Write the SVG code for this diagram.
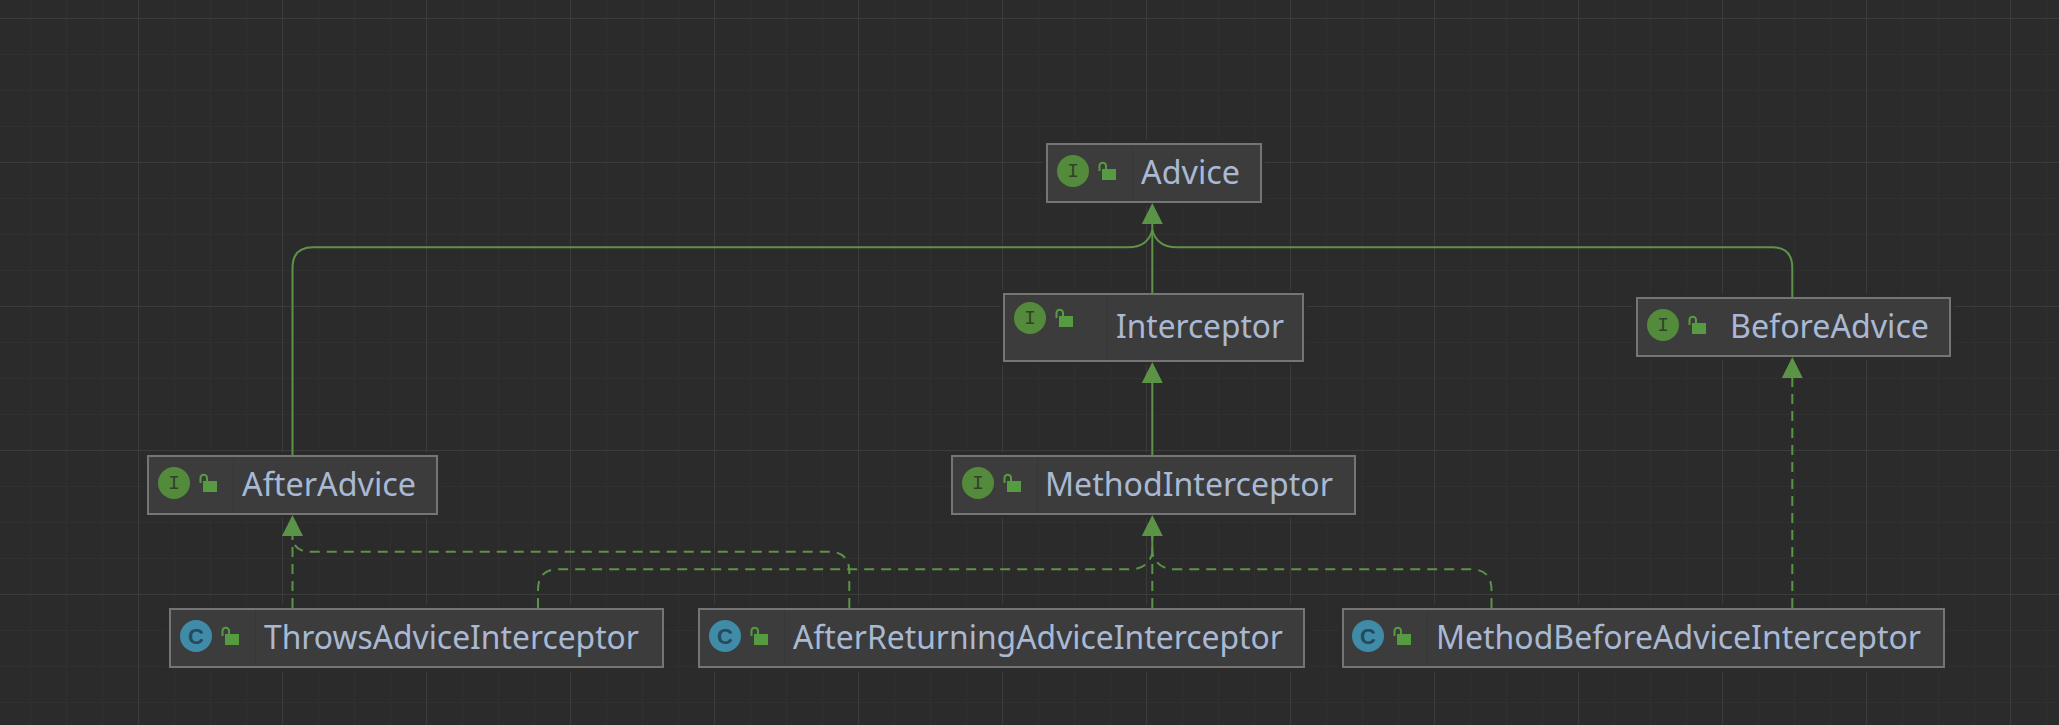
<svg xmlns="http://www.w3.org/2000/svg" xmlns:xlink="http://www.w3.org/1999/xlink" width="2059" height="725" viewBox="0 0 2059 725">
<style>
.halo{fill:#2b2b2b}
.box{fill:#3c3c3c;stroke:#757575;stroke-width:2}
.div{stroke:#373737;stroke-width:1}
.lbl{font-family:"Noto Sans","Open Sans","Liberation Sans",sans-serif;font-size:32px;fill:#a9b9d3}
.ltr{font-family:"Liberation Mono",monospace;font-size:20px;text-anchor:middle}
.ltc{font-family:"Liberation Sans",sans-serif;font-size:22px;font-weight:700;text-anchor:middle}
.solid,.dash{fill:none;stroke:#5c9447;stroke-width:2}
.dash{stroke-dasharray:10 7}
.head{fill:#5c9447}
</style>
<defs>
<pattern id="grid" patternUnits="userSpaceOnUse" x="138" y="18" width="144" height="144">
<path d="M36.5 0V144M72.5 0V144M108.5 0V144M0 36.5H144M0 72.5H144M0 108.5H144" stroke="#303030" stroke-width="1" fill="none"/>
<path d="M0.5 0V144M0 0.5H144" stroke="#3b3b3b" stroke-width="1" fill="none"/>
</pattern>
<g id="lock">
<rect x="29" y="-2" width="14" height="11" fill="#569a41"/>
<path d="M26.5 0V-5.5A3.3 3.3 0 0 1 33 -5.5V-2" fill="none" stroke="#569a41" stroke-width="2"/>
</g>
<path id="arrow" d="M0 0L10.5 21H-10.5Z"/>
</defs>
<rect width="2059" height="725" fill="#2b2b2b"/>
<rect width="2059" height="725" fill="url(#grid)"/>
<g id="halos" class="halo">
<rect x="1043" y="140" width="222" height="66"/>
<rect x="1000" y="290" width="307" height="75"/>
<rect x="1633" y="294" width="321" height="66"/>
<rect x="144" y="452" width="297" height="66"/>
<rect x="948" y="452" width="411" height="66"/>
<rect x="166" y="605" width="501" height="66"/>
<rect x="695" y="605" width="614" height="66"/>
<rect x="1339" y="605" width="609" height="66"/>
</g>

<g id="connectors">
<path class="solid" d="M292.5 455V268Q292.5 247.3 313 247.3H1128Q1148 247.3 1152.3 230"/>
<path class="solid" d="M1792.3 297V268Q1792.3 247.3 1772 247.3H1177Q1157 247.3 1152.3 230"/>
<path class="solid" d="M1152.3 293V222"/>
<path class="solid" d="M1152.3 455V380"/>
<path class="dash" d="M292.5 608V532"/>
<path class="dash" d="M849.3 608V572Q849.3 551.7 829 551.7H310Q296 551.7 292.5 540"/>
<path class="dash" d="M538 608V590Q538 569.3 558 569.3H1130Q1148 569.3 1152.3 553"/>
<path class="dash" d="M1491.5 608V590Q1491.5 569.3 1471 569.3H1175Q1157 569.3 1152.3 553"/>
<path class="dash" d="M1152.3 608V532"/>
<path class="solid" d="M1152.3 555V534"/>
<path class="dash" d="M1792.3 608V374"/>
<use href="#arrow" class="head" x="1152.3" y="203"/>
<use href="#arrow" class="head" x="1152.3" y="362"/>
<use href="#arrow" class="head" x="1152.3" y="515"/>
<use href="#arrow" class="head" x="292.5" y="515"/>
<use href="#arrow" class="head" x="1792.3" y="357"/>
</g>

<g id="node-advice">
<rect class="box" x="1047" y="144" width="214" height="58"/>
<path class="div" d="M1132.5 145V201"/>
<circle cx="1073" cy="171" r="16" fill="#548a3c"/>
<text class="ltr" x="1073" y="177" fill="#2f4429">I</text>
<use href="#lock" x="1073" y="171"/>
<text class="lbl" x="1141" y="184" textLength="99" lengthAdjust="spacingAndGlyphs">Advice</text>
</g>

<g id="node-interceptor">
<rect class="box" x="1004" y="294" width="299" height="67"/>
<path class="div" d="M1107.5 295V360"/>
<circle cx="1030" cy="318" r="16" fill="#548a3c"/>
<text class="ltr" x="1030" y="324" fill="#2f4429">I</text>
<use href="#lock" x="1030" y="318"/>
<text class="lbl" x="1116" y="338" textLength="168" lengthAdjust="spacingAndGlyphs">Interceptor</text>
</g>

<g id="node-beforeadvice">
<rect class="box" x="1637" y="298" width="313" height="58"/>
<circle cx="1663" cy="325" r="16" fill="#548a3c"/>
<text class="ltr" x="1663" y="331" fill="#2f4429">I</text>
<use href="#lock" x="1663" y="325"/>
<text class="lbl" x="1730" y="338" textLength="199" lengthAdjust="spacingAndGlyphs">BeforeAdvice</text>
</g>

<g id="node-afteradvice">
<rect class="box" x="148" y="456" width="289" height="58"/>
<path class="div" d="M233.5 457V513"/>
<circle cx="174" cy="483" r="16" fill="#548a3c"/>
<text class="ltr" x="174" y="489" fill="#2f4429">I</text>
<use href="#lock" x="174" y="483"/>
<text class="lbl" x="242" y="496" textLength="174" lengthAdjust="spacingAndGlyphs">AfterAdvice</text>
</g>

<g id="node-methodinterceptor">
<rect class="box" x="952" y="456" width="403" height="58"/>
<path class="div" d="M1037.5 457V513"/>
<circle cx="978" cy="483" r="16" fill="#548a3c"/>
<text class="ltr" x="978" y="489" fill="#2f4429">I</text>
<use href="#lock" x="978" y="483"/>
<text class="lbl" x="1045" y="496" textLength="288" lengthAdjust="spacingAndGlyphs">MethodInterceptor</text>
</g>

<g id="node-throwsadviceinterceptor">
<rect class="box" x="170" y="609" width="493" height="58"/>
<path class="div" d="M255.5 610V666"/>
<circle cx="196" cy="636" r="16" fill="#3f8ba8"/>
<text class="ltc" x="196" y="644" fill="#27495c">C</text>
<use href="#lock" x="196" y="636"/>
<text class="lbl" x="264" y="649" textLength="375" lengthAdjust="spacingAndGlyphs">ThrowsAdviceInterceptor</text>
</g>

<g id="node-afterreturningadviceinterceptor">
<rect class="box" x="699" y="609" width="605" height="58"/>
<path class="div" d="M784.5 610V666"/>
<circle cx="725" cy="636" r="16" fill="#3f8ba8"/>
<text class="ltc" x="725" y="644" fill="#27495c">C</text>
<use href="#lock" x="725" y="636"/>
<text class="lbl" x="793" y="649" textLength="490" lengthAdjust="spacingAndGlyphs">AfterReturningAdviceInterceptor</text>
</g>

<g id="node-methodbeforeadviceinterceptor">
<rect class="box" x="1343" y="609" width="601" height="58"/>
<path class="div" d="M1427.5 610V666"/>
<circle cx="1368" cy="636" r="16" fill="#3f8ba8"/>
<text class="ltc" x="1368" y="644" fill="#27495c">C</text>
<use href="#lock" x="1368" y="636"/>
<text class="lbl" x="1436" y="649" textLength="485" lengthAdjust="spacingAndGlyphs">MethodBeforeAdviceInterceptor</text>
</g>
</svg>
